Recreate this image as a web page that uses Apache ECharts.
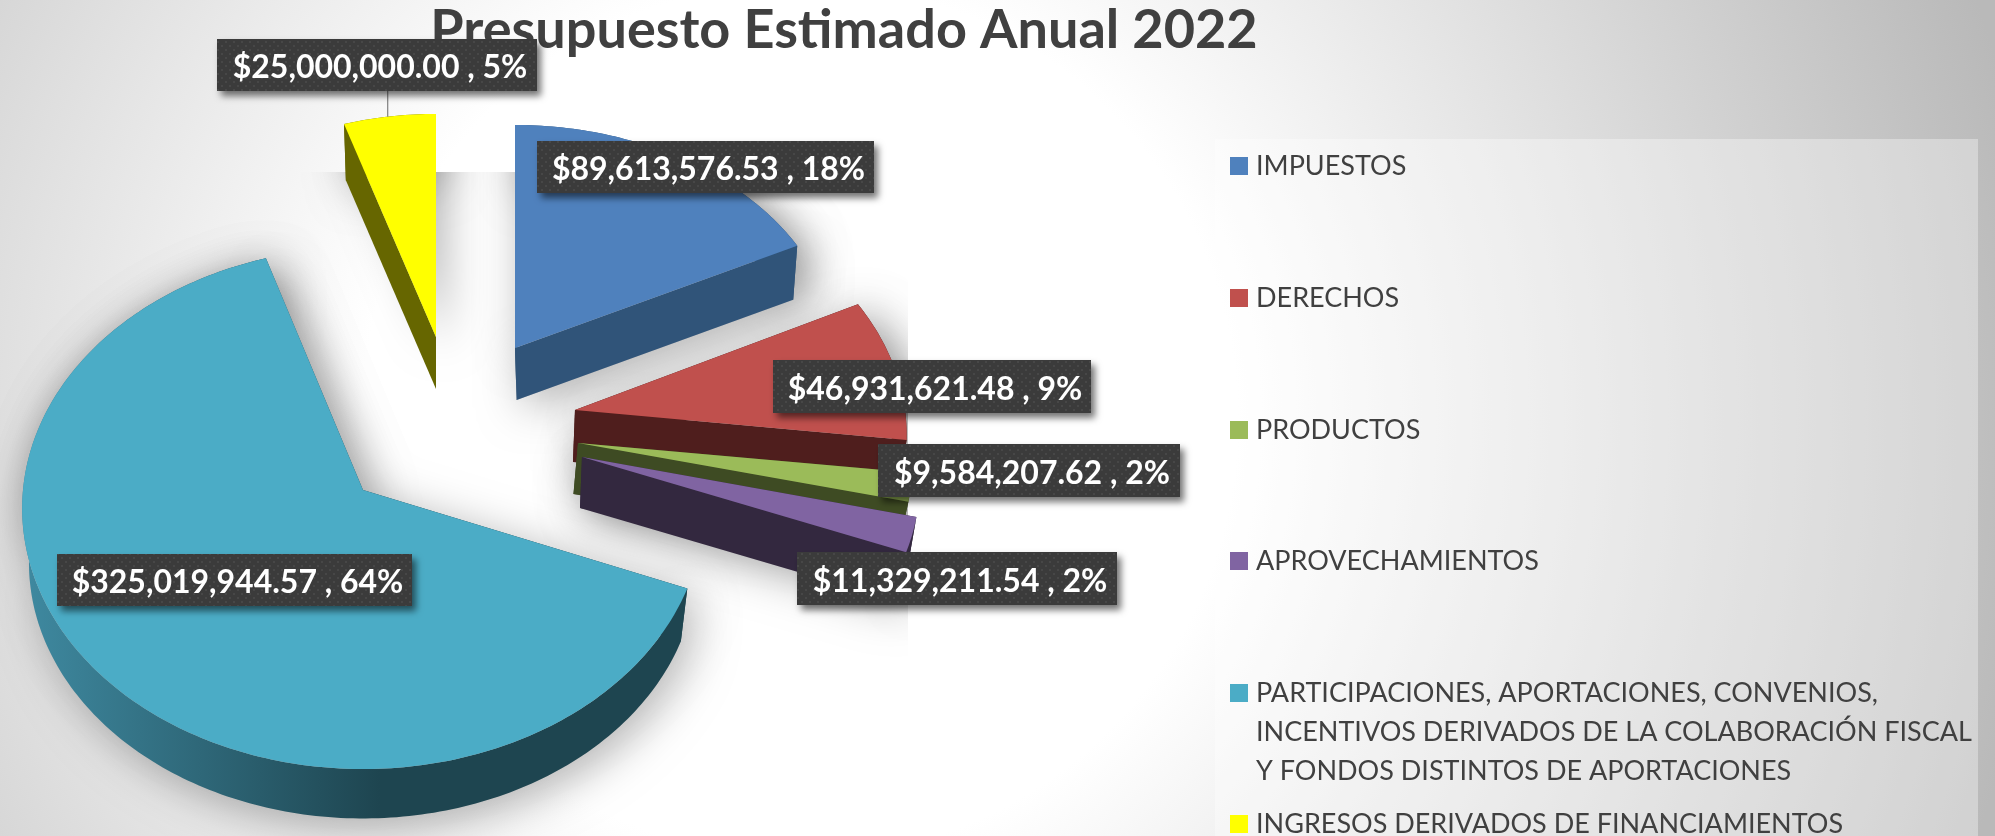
<!DOCTYPE html>
<html>
<head>
<meta charset="utf-8">
<style>html,body{margin:0;padding:0;background:#fff}#c{width:1995px;height:836px}</style>
<script src="https://cdn.jsdelivr.net/npm/echarts@6/dist/echarts.min.js"></script>
</head>
<body>
<div id="c"></div>
<script>
// ---- data ----
const titleText = 'Presupuesto Estimado Anual 2022';
const categories = [
  'IMPUESTOS',
  'DERECHOS',
  'PRODUCTOS',
  'APROVECHAMIENTOS',
  'PARTICIPACIONES, APORTACIONES, CONVENIOS,\nINCENTIVOS DERIVADOS DE LA COLABORACIÓN FISCAL\nY FONDOS DISTINTOS DE APORTACIONES',
  'INGRESOS DERIVADOS DE FINANCIAMIENTOS'
];
const values = [89613576.53, 46931621.48, 9584207.62, 11329211.54, 325019944.57, 25000000.00];

// ---- styles ----
const topColors  = ['#4f81bd', '#c0504d', '#9bbb59', '#8064a2', '#4bacc6', '#ffff00'];
const sideColors = ['#305479', '#4f1e1d', '#3e4b23', '#33283f', '#1e4550', '#666600'];

// ---- layout of the tilted, exploded pie ----
const pieCenter = [450, 420];
const explode = [[65, -72], [125, -10], [128, 23], [132, 37], [-87, 70], [-14, -83]];
const radiusX = [323, 330, 332, 336, 340, 318];
const radiusY = [235.5, 248, 243, 248, 259.5, 235.5];
const perspective = [-0.056, -0.1, -0.1, -0.1, -0.07, -0.056];
const depth = [52, 52, 51, 51, 55, 52];
const depthShiftX = [1.6, -2, -4.5, -2, 0, 0];
const depthScale = 0.98;
const paintOrder = [2, 3, 4, 5, 2, 2];   // z of each slice
const labelBoxes = [[537, 141, 337, 52], [773, 360, 318, 53], [878, 444, 302, 53], [797, 552, 320, 53], [57, 554, 355, 52], [217, 39, 320, 52]];
const labelTextShift = [3, 2];
const legendCenters = [166, 298, 430, 561, 693, 824];
const legendLineGap = 39;

const total = values.reduce((a, b) => a + b, 0);
const starts = [];
values.reduce((acc, v, i) => { starts[i] = acc; return acc + v; }, 0);

function rimPoint(i, theta, scale, shiftX, shiftY) {
  const u = Math.sin(theta), v = -Math.cos(theta);
  const w = 1 + perspective[i] * v;
  const ax = pieCenter[0] + explode[i][0] + shiftX;
  const ay = pieCenter[1] + explode[i][1] + shiftY;
  return [ax + scale * radiusX[i] * u / w, ay + scale * radiusY[i] * v / w];
}
function apexPoint(i, shiftX, shiftY) {
  return [pieCenter[0] + explode[i][0] + shiftX, pieCenter[1] + explode[i][1] + shiftY];
}
function arc(i, a0, a1, scale, sx, sy) {
  const n = Math.max(2, Math.ceil(Math.abs(a1 - a0) / (Math.PI / 180)));
  const pts = [];
  for (let k = 0; k <= n; k++) pts.push(rimPoint(i, a0 + (a1 - a0) * k / n, scale, sx, sy));
  return pts;
}
function sliceFaces(i, value) {
  const a0 = starts[i] / total * 2 * Math.PI;
  const a1 = a0 + value / total * 2 * Math.PI;
  const sx = depthShiftX[i], sy = depth[i];
  const apexT = apexPoint(i, 0, 0), apexB = apexPoint(i, sx, sy);
  const rimT = arc(i, a0, a1, 1, 0, 0), rimB = arc(i, a0, a1, depthScale, sx, sy);
  return {
    top: [apexT].concat(rimT),
    startFace: [apexT, rimT[0], rimB[0], apexB],
    endFace: [apexT, rimT[rimT.length - 1], rimB[rimB.length - 1], apexB],
    rimFace: rimT.concat(rimB.slice().reverse())
  };
}
function money(v) {
  return '$' + v.toLocaleString('en-US', { minimumFractionDigits: 2, maximumFractionDigits: 2 });
}

// dotted texture of the data-label boxes
const dots = document.createElement('canvas');
dots.width = 8; dots.height = 8;
(function () {
  const g = dots.getContext('2d');
  g.fillStyle = '#3b3b3b'; g.fillRect(0, 0, 8, 8);
  g.fillStyle = '#474747'; g.fillRect(1, 1, 2, 2);
  g.fillRect(5, 5, 2, 2);
})();

const sliceSeries = categories.map((name, i) => ({
  type: 'custom',
  name,
  coordinateSystem: 'none',
  z: paintOrder[i] + 1,
  silent: true,
  animation: false,
  itemStyle: { color: topColors[i] },
  data: [[values[i]]],
  renderItem: function (params, api) {
    const f = sliceFaces(i, api.value(0));
    let sideFill = sideColors[i];
    if (i === 4) {
      sideFill = new echarts.graphic.LinearGradient(20, 0, 380, 0, [
        { offset: 0, color: '#3f8aa1' }, { offset: 1, color: sideColors[i] }
      ], true);
    }
    const poly = (points, fill) => ({ type: 'polygon', shape: { points }, style: { fill, stroke: null } });
    return {
      type: 'group',
      children: [
        poly(f.rimFace, sideFill),
        poly(f.startFace, sideFill),
        poly(f.endFace, sideFill),
        poly(f.top, topColors[i])
      ]
    };
  }
}));

const shadowSeries = {
  type: 'custom',
  name: 'sombra',
  coordinateSystem: 'none',
  z: 1,
  silent: true,
  animation: false,
  data: values.map(v => [v]),
  renderItem: function (params, api) {
    const i = params.dataIndex;
    const f = sliceFaces(i, api.value(0));
    const clip = { type: 'rect', shape: { x: 0, y: 172, width: 908, height: 664 } };
    const st = { fill: '#bbb', shadowBlur: 44, shadowColor: 'rgba(0,0,0,0.3)', shadowOffsetX: 8, shadowOffsetY: 9 };
    return {
      type: 'group',
      children: [f.top, f.rimFace, f.endFace].map(points => ({
        type: 'polygon', shape: { points }, style: st, clipPath: clip
      }))
    };
  }
};

const labelSeries = {
  type: 'custom',
  name: 'etiquetas',
  coordinateSystem: 'none',
  z: 10,
  silent: true,
  animation: false,
  data: values.map(v => [v]),
  renderItem: function (params, api) {
    const i = params.dataIndex, v = api.value(0);
    const b = labelBoxes[i];
    const text = money(v) + ' , ' + Math.round(v / total * 100) + '%';
    const children = [];
    if (i === 5) {
      const anchor = rimPoint(i, (starts[i] + v * 0.48) / total * 2 * Math.PI, 1, 0, 0);
      children.push({
        type: 'line',
        shape: { x1: anchor[0], y1: b[1] + b[3], x2: anchor[0], y2: anchor[1] },
        style: { stroke: '#7f7f7f', lineWidth: 1.2 }
      });
    }
    children.push({
      type: 'rect',
      shape: { x: b[0], y: b[1], width: b[2], height: b[3] },
      style: { fill: { image: dots, repeat: 'repeat' }, shadowBlur: 7, shadowColor: 'rgba(0,0,0,0.55)', shadowOffsetX: 4, shadowOffsetY: 5 }
    });
    children.push({
      type: 'text',
      style: {
        text, x: b[0] + b[2] / 2 + labelTextShift[0], y: b[1] + b[3] / 2 + 1 + labelTextShift[1],
        align: 'center', verticalAlign: 'middle',
        fill: '#ffffff', fontFamily: 'Lato', fontWeight: 'bold', fontSize: 32
      }
    });
    return { type: 'group', children };
  }
};

const extraLegendLines = [];
categories.forEach((name, i) => {
  name.split('\n').slice(1).forEach((line, k) => {
    extraLegendLines.push({
      type: 'text', z: 5,
      style: {
        text: line, x: 1256, y: legendCenters[i] + (k + 1) * legendLineGap,
        verticalAlign: 'middle', fill: '#404040', fontFamily: 'Lato', fontSize: 27
      }
    });
  });
});

const chart = echarts.init(document.getElementById('c'), null, { renderer: 'canvas' });
chart.setOption({
  animation: false,
  title: {
    text: titleText,
    left: 839, top: 1, textAlign: 'center', z: 2,
    textStyle: { color: '#404040', fontFamily: 'Lato', fontWeight: 'bold', fontSize: 54, lineHeight: 50 }
  },
  legend: categories.map((name, i) => ({
    data: [name],
    left: 1230,
    top: legendCenters[i] - 16,
    orient: 'vertical',
    padding: 0,
    itemWidth: 18,
    itemHeight: 18,
    icon: 'rect',
    selectedMode: false,
    formatter: n => n.split('\n')[0],
    textStyle: { color: '#404040', fontFamily: 'Lato', fontSize: 27, lineHeight: 32, padding: [0, 0, 0, 3] }
  })),
  graphic: [
    {
      type: 'rect', z: -10, silent: true,
      shape: { x: 0, y: 0, width: 1995, height: 836 },
      style: {
        fill: new echarts.graphic.RadialGradient(800, 420, 1250, [
          { offset: 0, color: '#ffffff' }, { offset: 0.35, color: '#ffffff' }, { offset: 1, color: '#b9b9b9' }
        ], true)
      }
    },
    {
      type: 'rect', z: -9, silent: true,
      shape: { x: 1215, y: 139, width: 763, height: 697 },
      style: { fill: 'rgba(255,255,255,0.35)' }
    }
  ].concat(extraLegendLines),
  series: [shadowSeries].concat(sliceSeries, [labelSeries])
});
</script>
</body>
</html>
